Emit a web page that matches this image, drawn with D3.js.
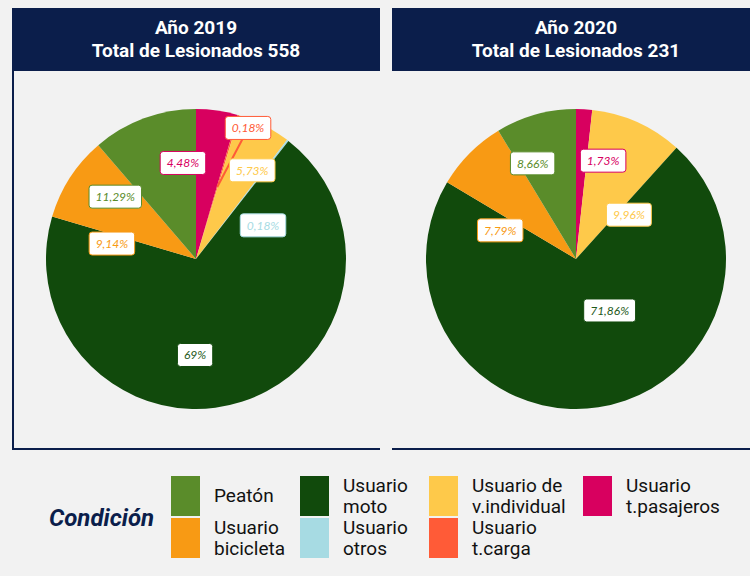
<!DOCTYPE html>
<html>
<head>
<meta charset="utf-8">
<script src="https://cdn.jsdelivr.net/npm/d3@7"></script>
<style>
  body { margin: 0; background: #f2f2f2; }
  svg { display: block; }
</style>
</head>
<body>
<div id="chart"></div>
<script>
// Datos (orden de las porciones en sentido horario desde arriba)
const CATEGORIAS = ['Usuario t.pasajeros', 'Usuario t.carga', 'Usuario de v.individual', 'Usuario otros', 'Usuario moto', 'Usuario bicicleta', 'Peatón']
const PCT_2019 = [4.48, 0.18, 5.73, 0.18, 69, 9.14, 11.29]
const PCT_2020 = [1.73, 0, 9.96, 0, 71.86, 7.79, 8.66]
const ANIOS = ['2019', '2020']
const TOTALES = [558, 231]
const COLORES = ['#d8005f', '#ff5b37', '#fec94a', '#a7dbe3', '#114a0c', '#f89a14', '#5a8c2a']

// Leyenda: columnas con sus categorias
const LEYENDA = [['Peatón', 'Usuario bicicleta'], ['Usuario moto', 'Usuario otros'], ['Usuario de v.individual', 'Usuario t.carga'], ['Usuario t.pasajeros']]
const LEYENDA_TEXTO = {
  'Peatón': ['Peatón'],
  'Usuario bicicleta': ['Usuario', 'bicicleta'],
  'Usuario moto': ['Usuario', 'moto'],
  'Usuario otros': ['Usuario', 'otros'],
  'Usuario de v.individual': ['Usuario de', 'v.individual'],
  'Usuario t.carga': ['Usuario', 't.carga'],
  'Usuario t.pasajeros': ['Usuario', 't.pasajeros']
}

// Caracteristicas del grafico
const WIDTH = 750
const HEIGHT = 576
const NAVY = '#0b1e4b'
const PANEL = { top: 8, headerH: 63, bottom: 449, w: 368, xs: [12, 392] }
const RADIUS = 150
const PIE_CY = 259

// Ajuste de etiquetas: desplazamiento angular (grados) y radio relativo, como en el original
const ETIQUETAS = [
  { 'Usuario t.pasajeros': [-15.8, 0.646], 'Usuario t.carga': [5.2, 0.94, true], 'Usuario de v.individual': [5.3, 0.70], 'Usuario otros': [25.6, 0.50], 'Usuario moto': [18.3, 0.64], 'Usuario bicicleta': [-22.5, 0.57], 'Peatón': [-32, 0.68] },
  { 'Usuario t.pasajeros': [12.3, 0.68], 'Usuario de v.individual': [25.9, 0.46], 'Usuario moto': [-24.6, 0.41], 'Usuario bicicleta': [-24.1, 0.54], 'Peatón': [-8.8, 0.70] }
]

const color = d3.scaleOrdinal().domain(CATEGORIAS).range(COLORES)
const fmt = v => String(v).replace('.', ',') + '%'
const textColor = c => c === 'Usuario moto' ? '#1f5a1b' : color(c)

const svg = d3.select('#chart').append('svg')
  .attr('width', WIDTH)
  .attr('height', HEIGHT)

const pie = d3.pie().sort(null).value(d => d.v)
const arc = d3.arc().innerRadius(0).outerRadius(RADIUS)

;[PCT_2019, PCT_2020].forEach((valores, i) => {
  const x0 = PANEL.xs[i]
  const cx = x0 + PANEL.w / 2
  const g = svg.append('g')

  // Cabecera
  g.append('rect')
    .attr('x', x0).attr('y', PANEL.top)
    .attr('width', PANEL.w).attr('height', PANEL.headerH)
    .attr('fill', NAVY)
  const titulo = g.append('text')
    .attr('text-anchor', 'middle')
    .style('font-family', 'Roboto, sans-serif')
    .style('font-weight', 700)
    .style('font-size', '19px')
    .attr('fill', '#fff')
  titulo.append('tspan').attr('x', cx).attr('y', 34).text(`Año ${ANIOS[i]}`)
  titulo.append('tspan').attr('x', cx).attr('y', 57).text(`Total de Lesionados ${TOTALES[i]}`)

  // Bordes del panel
  if (i === 0) {
    g.append('line')
      .attr('x1', x0 + 1).attr('x2', x0 + 1)
      .attr('y1', PANEL.top + PANEL.headerH).attr('y2', PANEL.bottom + 1)
      .attr('stroke', NAVY).attr('stroke-width', 2)
  }
  g.append('line')
    .attr('x1', x0).attr('x2', x0 + PANEL.w)
    .attr('y1', PANEL.bottom).attr('y2', PANEL.bottom)
    .attr('stroke', NAVY).attr('stroke-width', 2)

  // Pastel
  const datos = CATEGORIAS.map((c, k) => ({ c, v: valores[k] }))
  const arcos = pie(datos)
  const gp = g.append('g').attr('transform', `translate(${cx},${PIE_CY})`)

  gp.selectAll('path')
    .data(arcos.filter(d => d.data.v > 0))
    .join('path')
    .attr('d', arc)
    .attr('fill', d => color(d.data.c))

  // Etiquetas
  const ajustes = ETIQUETAS[i]
  arcos.filter(d => d.data.v > 0).forEach(d => {
    const [dAng, rf, guia] = ajustes[d.data.c]
    const mid = (d.startAngle + d.endAngle) / 2
    const a = mid + dAng * Math.PI / 180
    const lx = Math.sin(a) * RADIUS * rf
    const ly = -Math.cos(a) * RADIUS * rf

    if (guia) {
      const [px, py] = arc.centroid(d)
      gp.append('line')
        .attr('x1', px).attr('y1', py)
        .attr('x2', lx - 5).attr('y2', ly + 10)
        .attr('stroke', color(d.data.c))
        .attr('stroke-width', 2)
    }

    const lab = gp.append('g').attr('transform', `translate(${lx},${ly})`)
    const rect = lab.append('rect')
    const t = lab.append('text')
      .attr('text-anchor', 'middle')
      .attr('dy', '0.35em')
      .style('font-family', 'Lato, sans-serif')
      .style('font-style', 'italic')
      .style('font-size', '12px')
      .attr('fill', textColor(d.data.c))
      .text(fmt(d.data.v))
    const w = t.node().getComputedTextLength() + 13
    rect.attr('x', -w / 2).attr('y', -11.5)
      .attr('width', w).attr('height', 23)
      .attr('rx', 3)
      .attr('fill', '#fff')
      .attr('stroke', color(d.data.c))
      .attr('stroke-width', 1)
  })
})

// Leyenda
svg.append('text')
  .attr('x', 49).attr('y', 526)
  .style('font-family', 'Roboto, sans-serif')
  .style('font-weight', 700)
  .style('font-style', 'italic')
  .style('font-size', '24px')
  .attr('fill', NAVY)
  .text('Condición')

const COL_X = [171, 300, 429, 583]
const ROW_Y = [476, 518]
LEYENDA.forEach((col, ci) => {
  col.forEach((c, ri) => {
    const x = COL_X[ci]
    const y = ROW_Y[ri]
    svg.append('rect')
      .attr('x', x).attr('y', y)
      .attr('width', 29).attr('height', 40)
      .attr('fill', color(c))
    const lineas = LEYENDA_TEXTO[c]
    const txt = svg.append('text')
      .style('font-family', 'Roboto, sans-serif')
      .style('font-size', '19px')
      .attr('fill', '#111')
    lineas.forEach((l, li) => {
      txt.append('tspan')
        .attr('x', x + 43)
        .attr('y', lineas.length === 1 ? y + 26 : y + 15.5 + li * 21)
        .text(l)
    })
  })
})
</script>
</body>
</html>
